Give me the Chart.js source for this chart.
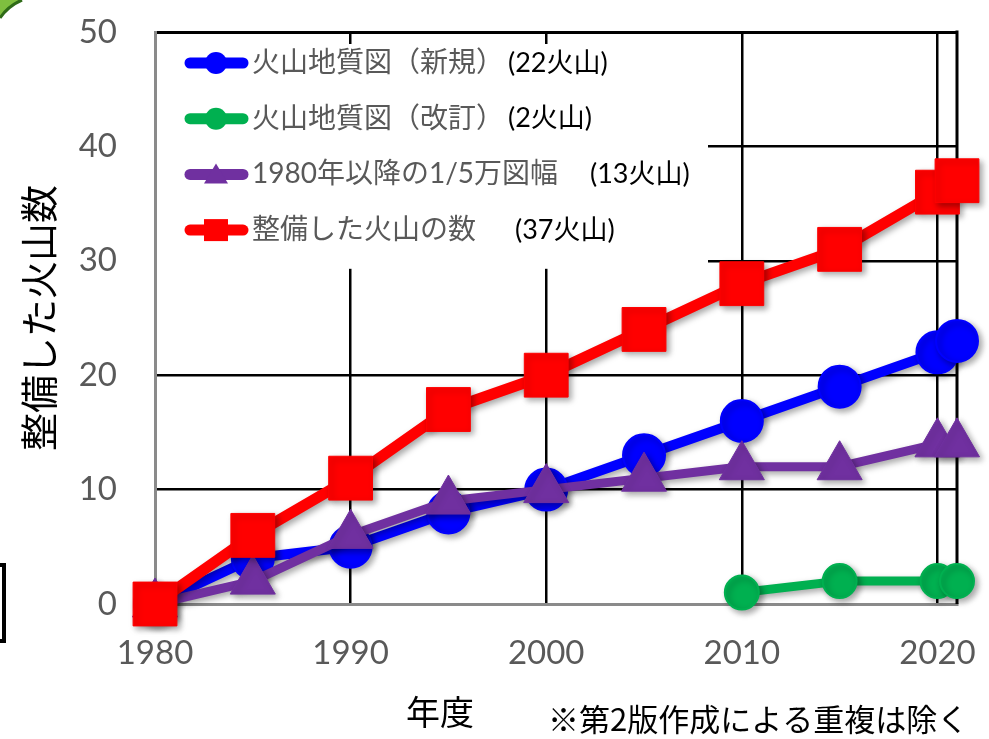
<!DOCTYPE html>
<html>
<head>
<meta charset="utf-8">
<script src="https://cdn.jsdelivr.net/npm/chart.js@4.4.1/dist/chart.umd.min.js"></script>
<style>
  html, body { margin: 0; padding: 0; background: #fff; }
  #wrap { width: 989px; height: 739px; }
</style>
</head>
<body>
<div id="wrap"><canvas id="myChart"></canvas></div>
<script>
// data
var years = [1980, 1985, 1990, 1995, 2000, 2005, 2010, 2015, 2020, 2021];
var newMaps = [0, 4, 5, 8, 10, 13, 16, 19, 22, 23];
var revisedYears = [2010, 2015, 2020, 2021];
var revisedMaps = [1, 2, 2, 2];
var sheetMaps = [0, 2, 6, 9, 10, 11, 12, 12, 14, 14];
var totalVolcanoes = [0, 6, 11, 17, 20, 24, 28, 31, 36, 37];
var xTickValues = [1980, 1990, 2000, 2010, 2020];
var seriesNames = ["火山地質図（新規）", "火山地質図（改訂）", "1980年以降の1/5万図幅", "整備した火山の数"];
var seriesCounts = ["(22火山)", "(2火山)", "(13火山)", "(37火山)"];
var yTitle = "整備した火山数";
var xTitle = "年度";
var note = "※第2版作成による重複は除く";

var jp = "'Noto Sans CJK JP', sans-serif";
var latinJp = "Lato, 'Noto Sans CJK JP', sans-serif";
Chart.defaults.font.family = latinJp;

function pts(xs, ys) {
  return xs.map(function (x, i) { return { x: x, y: ys[i] }; });
}

// no extra room for overflowing tick labels, the layout padding decides
function noPad(s) {
  s.paddingTop = 0;
  s.paddingBottom = 0;
  s.paddingLeft = 0;
  s.paddingRight = 0;
}

// small marker for the legend rows
function legendMarker(ctx, style, x, y) {
  ctx.beginPath();
  if (style == 'circle') {
    ctx.arc(x, y, 11, 0, Math.PI * 2);
  } else if (style == 'rect') {
    ctx.rect(x - 12, y - 11, 24, 22);
  } else {
    ctx.moveTo(x, y - 11);
    ctx.lineTo(x + 12, y + 9);
    ctx.lineTo(x - 12, y + 9);
    ctx.closePath();
  }
  ctx.fill();
}

var decor = {
  id: 'decor',
  beforeDatasetsDraw: function (chart) {
    var ctx = chart.ctx, a = chart.chartArea, y = chart.scales.y;
    ctx.save();
    // right side of the frame
    ctx.strokeStyle = '#000';
    ctx.lineWidth = 3;
    ctx.beginPath();
    ctx.moveTo(a.right, a.top - 1.5);
    ctx.lineTo(a.right, a.bottom);
    ctx.stroke();

    // legend box (white, hides the grid behind it)
    var boxBottom = y.getPixelForValue(30) + 8;
    ctx.fillStyle = '#fff';
    ctx.fillRect(a.left + 2, a.top + 12, 708 - a.left - 2, boxBottom - a.top - 12);

    var countX = [508, 508, 590, 515];
    chart.data.datasets.forEach(function (ds, i) {
      var ry = 63 + i * 55.7;
      ctx.strokeStyle = ds.borderColor;
      ctx.fillStyle = ds.borderColor;
      ctx.lineWidth = 11;
      ctx.lineCap = 'round';
      ctx.beginPath();
      ctx.moveTo(190, ry);
      ctx.lineTo(243, ry);
      ctx.stroke();
      legendMarker(ctx, ds.pointStyle, 216, ry);

      ctx.textBaseline = 'middle';
      ctx.textAlign = 'left';
      ctx.fillStyle = '#595959';
      ctx.font = '28px ' + latinJp;
      ctx.fillText(seriesNames[i], 252, ry);
      ctx.fillStyle = '#000';
      ctx.font = '27px ' + latinJp;
      ctx.fillText(seriesCounts[i], countX[i], ry);
    });
    ctx.restore();

    // soft drop shadow under the lines and markers
    ctx.save();
    ctx.shadowColor = 'rgba(0,0,0,0.35)';
    ctx.shadowBlur = 6;
    ctx.shadowOffsetX = 3;
    ctx.shadowOffsetY = 3;
  },
  afterDatasetsDraw: function (chart) {
    chart.ctx.restore();
  },
  afterDraw: function (chart) {
    var ctx = chart.ctx;
    ctx.save();
    ctx.fillStyle = '#000';
    ctx.textBaseline = 'middle';
    ctx.textAlign = 'center';
    ctx.font = '34px ' + jp;
    ctx.fillText(xTitle, 440, 712);
    ctx.textAlign = 'left';
    ctx.font = '31px ' + jp;
    ctx.fillText(note, 548, 719);

    // bits of the slide around the chart
    ctx.strokeStyle = '#000';
    ctx.lineWidth = 4;
    ctx.beginPath();
    ctx.moveTo(0, 565);
    ctx.lineTo(4, 565);
    ctx.lineTo(4, 641);
    ctx.lineTo(0, 641);
    ctx.stroke();

    ctx.fillStyle = '#7fbf3f';
    ctx.strokeStyle = '#2f6b18';
    ctx.lineWidth = 3;
    ctx.beginPath();
    ctx.moveTo(0, 0);
    ctx.lineTo(22, 0);
    ctx.quadraticCurveTo(8, 6, 0, 18);
    ctx.closePath();
    ctx.fill();
    ctx.beginPath();
    ctx.moveTo(22, 0);
    ctx.quadraticCurveTo(8, 6, 0, 18);
    ctx.stroke();
    ctx.restore();
  }
};

var ctx = document.getElementById('myChart').getContext('2d');
var myChart = new Chart(ctx, {
  type: 'line',
  data: {
    datasets: [{
      label: seriesNames[0],
      data: pts(years, newMaps),
      borderColor: '#0000ff',
      backgroundColor: '#0000ff',
      borderWidth: 10,
      pointStyle: 'circle',
      pointRadius: 21,
      pointBorderWidth: 2,
      order: 3
    }, {
      label: seriesNames[1],
      data: pts(revisedYears, revisedMaps),
      borderColor: '#00b050',
      backgroundColor: '#00b050',
      borderWidth: 9,
      pointStyle: 'circle',
      pointRadius: 17,
      pointBorderWidth: 2,
      order: 2
    }, {
      label: seriesNames[2],
      data: pts(years, sheetMaps),
      borderColor: '#7030a0',
      backgroundColor: '#7030a0',
      borderWidth: 9,
      pointStyle: 'triangle',
      pointRadius: 26,
      pointBorderWidth: 1,
      order: 1
    }, {
      label: seriesNames[3],
      data: pts(years, totalVolcanoes),
      borderColor: '#ff0000',
      backgroundColor: '#ff0000',
      borderWidth: 11,
      pointStyle: 'rect',
      pointRadius: 31,
      pointBorderWidth: 1,
      order: 0
    }]
  },
  options: {
    responsive: true,
    maintainAspectRatio: false,
    animation: false,
    events: [],
    layout: { padding: { top: 23, right: 30, left: 0, bottom: 0 } },
    datasets: {
      line: { clip: false, tension: 0, fill: false, borderJoinStyle: 'round', borderCapStyle: 'round' }
    },
    plugins: {
      legend: { display: false },
      tooltip: { enabled: false }
    },
    scales: {
      x: {
        type: 'linear',
        min: 1980,
        max: 2021,
        afterBuildTicks: function (s) {
          s.ticks = xTickValues.map(function (v) { return { value: v }; });
        },
        afterFit: function (s) { s.height = 135; noPad(s); },
        grid: {
          color: function (c) { return c.tick && c.tick.value == 1980 ? 'rgba(0,0,0,0)' : '#000'; },
          lineWidth: 2.5,
          drawTicks: false
        },
        border: { color: '#8a8a8a', width: 3 },
        ticks: {
          color: '#595959',
          font: { size: 33 },
          padding: 30,
          maxRotation: 0,
          autoSkip: false,
          callback: function (v) { return String(v); }
        }
      },
      y: {
        min: 0,
        max: 50,
        afterFit: function (s) { s.width = 155; noPad(s); },
        grid: {
          color: function (c) { return c.tick && c.tick.value == 0 ? 'rgba(0,0,0,0)' : '#000'; },
          lineWidth: function (c) { return c.tick && c.tick.value == 50 ? 3 : 2.5; },
          drawTicks: false
        },
        border: { color: '#8a8a8a', width: 3 },
        ticks: {
          stepSize: 10,
          color: '#595959',
          font: { size: 33 },
          padding: 38
        },
        title: {
          display: true,
          text: yTitle,
          color: '#000',
          font: { family: jp, size: 38 },
          padding: { top: 16, bottom: 0 }
        }
      }
    }
  },
  plugins: [decor]
});
</script>
</body>
</html>
